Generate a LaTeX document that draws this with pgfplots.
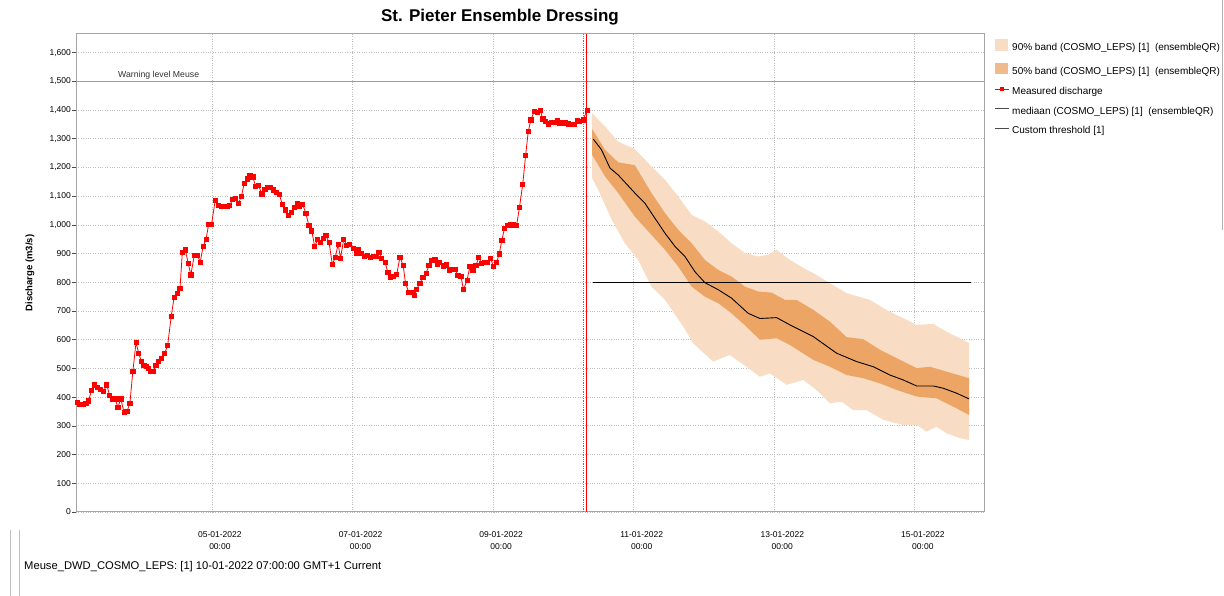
\documentclass[border=0pt]{standalone}
\usepackage{fontspec}
\setmainfont{Liberation Sans}
\usepackage{pgfplots}
\pgfplotsset{compat=1.18}
\usepgfplotslibrary{fillbetween}
\definecolor{bandlight}{RGB}{248,220,196}
\definecolor{banddark}{RGB}{237,165,102}
\definecolor{banddarkleg}{RGB}{241,186,140}
\definecolor{gridgray}{RGB}{190,190,190}
\definecolor{axgray}{RGB}{165,165,165}
\definecolor{measred}{RGB}{255,0,0}
\definecolor{warnorange}{RGB}{248,135,30}

\begin{document}
\begin{tikzpicture}
\begin{axis}[
  at={(76pt,84pt)}, anchor=south west,
  width=908pt, height=478pt, scale only axis,
  xmin=-46.4, xmax=263.6, ymin=0, ymax=1665,
  xtick={0,48,96,144,192,240},
  xticklabels={05-01-2022\\00:00,07-01-2022\\00:00,09-01-2022\\00:00,11-01-2022\\00:00,13-01-2022\\00:00,15-01-2022\\00:00},
  xticklabel style={align=center, font=\fontsize{8.5}{12.5}\selectfont, xshift=8pt, yshift=-12pt},
  ytick={0,100,...,1600},
  yticklabel style={font=\fontsize{8.5}{10}\selectfont, inner sep=1pt},
  /pgf/number format/assume math mode=true,
  /pgf/number format/1000 sep={,},
  tick align=outside,
  ytick pos=left,
  major tick length=4pt,
  xtick style={draw=none},
  ytick style={color=black!70, line width=0.6pt},
  grid=major,
  major grid style={dotted, gridgray, line width=0.8pt},
  axis line style={axgray, line width=1pt},
  clip=true,
  legend style={draw=none, fill=none, at={(1,1)}, anchor=north west, xshift=10pt, yshift=-5pt,
    inner sep=0pt, font=\fontsize{10}{12}\selectfont, row sep=7.5pt,
    nodes={inner sep=1pt, text height=7.5pt, text depth=2.5pt},
    /tikz/every odd column/.append style={column sep=2pt}},
  legend cell align=left,
]
% 90% band
\addplot[name path=u90, draw=none, forget plot] coordinates {
(129.8,1389) (134.2,1343) (138.7,1290) (144.4,1264) (150.1,1203) (154.7,1157) (159.2,1099)
(163.8,1035) (168.3,1012) (172.9,977) (177.4,936) (182.0,902) (186.5,890) (189.9,896)
(192.8,913) (197.3,878) (202.8,845) (205.3,832) (211.0,797) (216.7,762) (224.6,739) (230.3,704)
(236.0,675) (240.6,652) (246.3,655) (250.8,628) (255.4,605) (258.5,588)};
\addplot[name path=l90, draw=none, forget plot] coordinates {
(129.8,1163) (131.9,1122) (136.5,1018) (141.0,936) (145.5,878) (150.1,785) (154.7,739)
(160.9,646) (164.3,588) (171.1,524) (176.8,547) (182.5,506) (187.1,471) (190.5,483)
(196.2,443) (201.9,460) (206.4,425) (211.0,379) (215.0,384) (218.9,355) (223.5,355)
(229.2,321) (236.0,303) (240.6,303) (244.0,280) (247.4,297) (250.8,274) (255.4,257) (258.5,251)};
\addplot[fill=bandlight, draw=none,
  legend image code/.code={\path[draw=none,fill=none] (0pt,-7pt) rectangle (14pt,7pt); \fill[bandlight, draw=none] (0pt,-2.5pt) rectangle (13pt,9pt);}]
  fill between[of=u90 and l90];
\addlegendentry{90\% band (COSMO\_LEPS) [1]\ \ (ensembleQR)}

% 50% band
\addplot[name path=u50, draw=none, forget plot] coordinates {
(129.8,1334) (134.2,1262) (138.7,1218) (144.4,1208) (150.1,1111) (154.7,1041) (159.2,983)
(163.8,936) (168.3,878) (172.9,843) (177.4,820) (182.0,785) (186.5,768) (191.1,764)
(195.6,739) (199.6,739) (205.3,704) (211.0,663) (216.7,609) (222.4,602) (228.1,565)
(233.8,536) (240.6,501) (245.1,506) (250.8,489) (258.5,466)};
\addplot[name path=l50, draw=none, forget plot] coordinates {
(129.8,1244) (134.2,1169) (138.7,1111) (144.4,1029) (150.1,965) (154.7,913) (159.2,855)
(163.8,785) (168.3,750) (172.9,727) (177.4,692) (182.0,650) (187.1,600) (192.8,605)
(197.3,582) (205.3,530) (211.0,506) (216.7,477) (222.4,466) (228.1,448) (233.8,425)
(240.6,402) (247.4,396) (253.1,367) (258.5,338)};
\addplot[fill=banddark, draw=none,
  legend image code/.code={\path[draw=none,fill=none] (0pt,-7pt) rectangle (14pt,7pt); \fill[banddarkleg, draw=none] (0pt,-2.5pt) rectangle (13pt,9pt);}]
  fill between[of=u50 and l50];
\addlegendentry{50\% band (COSMO\_LEPS) [1]\ \ (ensembleQR)}

% warning level 1500 as a thin filled strip
\addplot[forget plot, fill=warnorange, draw=none]
  coordinates {(-46.4,1497.6) (263.6,1497.6) (263.6,1502.4) (-46.4,1502.4)} -- cycle;
\node[anchor=south west, font=\fontsize{8.7}{10}\selectfont, inner sep=1pt, text=black!80] at (axis cs:-32.4,1503) {Warning level Meuse};

% forecast time markers
\addplot[forget plot, black!55, densely dotted, line width=0.8pt] coordinates {(126.9,0) (126.9,1665)};
\addplot[forget plot, measred, line width=0.9pt] coordinates {(127.8,0) (127.8,1665)};

% measured discharge
\addplot[measred, line width=0.8pt, mark=square*, mark size=2.1pt, mark options={solid, fill=measred},
  legend image code/.code={\path[draw=none,fill=none] (0pt,-5pt) rectangle (14pt,5pt); \draw[measred, line width=0.8pt] (0pt,3pt) -- (14pt,3pt); \fill[measred, draw=none] (4.8pt,0.8pt) rectangle (9.2pt,5.2pt);}]
coordinates {
(-45.9,381) (-45.1,376) (-43.9,375) (-43.0,379) (-42.1,387) (-41.1,424) (-40.0,443) (-39.0,435)
(-38.0,428) (-37.0,419) (-35.9,443) (-34.9,405) (-33.9,394) (-33.0,394) (-32.1,364) (-31.1,394)
(-30.0,347) (-29.0,350) (-28.0,379) (-27.0,489) (-25.9,591) (-25.0,553) (-24.1,525) (-23.2,512)
(-22.3,506) (-21.6,501) (-20.9,489) (-20.0,491) (-19.1,511) (-18.2,524) (-17.2,536) (-16.1,553)
(-15.1,581) (-13.9,681) (-12.9,748) (-11.8,762) (-10.9,778) (-10.1,904) (-9.1,913) (-8.1,867)
(-7.2,826) (-6.0,895) (-4.9,895) (-4.0,870) (-3.0,925) (-2.0,950) (-1.1,1003) (-0.1,1003)
(1.1,1084) (2.2,1067) (3.2,1064) (4.2,1064) (5.2,1064) (6.1,1067) (7.1,1090) (8.0,1091)
(9.1,1076) (10.1,1100) (11.0,1144) (12.1,1160) (13.0,1172) (14.0,1167) (14.9,1134) (15.9,1137)
(17.1,1108) (18.1,1125) (19.1,1130) (20.1,1130) (20.9,1122) (22.0,1114) (23.0,1107) (24.0,1072)
(25.0,1052) (26.2,1033) (27.2,1044) (28.1,1062) (29.1,1073) (30.0,1064) (31.0,1072) (32.1,1039)
(33.1,998) (34.1,979) (35.1,925) (36.1,950) (37.0,939) (38.0,953) (38.9,963) (40.0,939)
(41.1,863) (42.1,886) (43.1,933) (43.9,884) (45.0,950) (46.0,930) (47.0,933) (48.2,919)
(49.2,902) (50.1,916) (51.1,902) (52.1,890) (53.0,894) (54.0,888) (55.1,890) (56.0,890)
(57.0,904) (58.0,884) (59.1,870) (60.1,834) (61.0,818) (62.0,822) (63.1,828) (64.2,888)
(65.3,858) (66.1,797) (67.2,766) (68.3,766) (69.1,754) (69.9,776) (71.0,797) (72.0,817)
(73.1,832) (74.1,858) (75.1,875) (76.1,878) (76.9,863) (77.8,870) (79.0,857) (80.0,861)
(81.0,843) (81.9,846) (83.0,846) (84.0,824) (85.0,822) (85.9,774) (87.1,808) (88.1,855)
(89.1,843) (90.1,858) (91.1,886) (92.1,867) (93.1,870) (94.1,870) (95.1,882) (96.2,855)
(97.2,870) (98.1,899) (99.0,947) (99.9,989) (101.0,997) (102.0,1000) (103.0,1000) (104.0,997)
(105.0,1061) (106.1,1140) (107.1,1242) (108.0,1325) (108.9,1366) (110.0,1395) (111.1,1392) (112.1,1399)
(113.0,1369) (113.9,1360) (114.8,1352) (115.8,1358) (116.8,1358) (117.9,1363) (118.8,1355) (119.7,1358)
(120.6,1355) (121.6,1352) (122.7,1349) (123.7,1351) (124.7,1364) (125.6,1360) (126.7,1366) (128.1,1399)};
\addlegendentry{Measured discharge}

% median
\addplot[black, line width=0.9pt,
  legend image code/.code={\path[draw=none,fill=none] (0pt,-5pt) rectangle (14pt,5pt); \draw[black!70, line width=1pt] (0pt,3pt) -- (14pt,3pt);}]
coordinates {
(130.2,1299) (133.0,1262) (135.9,1198) (138.7,1174) (144.4,1111) (147.8,1076) (151.2,1024)
(154.7,971) (158.1,925) (161.5,890) (164.9,837) (168.3,799) (172.9,774) (177.4,745)
(183.1,692) (187.1,674) (192.8,677) (197.3,652) (205.3,611) (213.3,553) (220.1,524)
(225.8,506) (231.5,477) (236.0,460) (240.6,439) (246.3,439) (249.7,431) (254.2,414) (258.5,394)};
\addlegendentry{mediaan (COSMO\_LEPS) [1]\ \ (ensembleQR)}

% custom threshold
\addplot[black, line width=1pt,
  legend image code/.code={\path[draw=none,fill=none] (0pt,-5pt) rectangle (14pt,5pt); \draw[black!70, line width=1pt] (0pt,3pt) -- (14pt,3pt);}]
coordinates {(130.0,800) (259.0,800)};
\addlegendentry{Custom threshold [1]}
\end{axis}

\node[font=\bfseries\fontsize{17}{20}\selectfont] at (500pt,579pt) {St. Pieter Ensemble Dressing};
\node[rotate=90, font=\bfseries\fontsize{9.5}{11}\selectfont] at (30pt,323pt) {Discharge (m3/s)};
\node[anchor=west, font=\fontsize{11.2}{13}\selectfont, inner sep=0pt] at (24pt,29pt) {Meuse\_DWD\_COSMO\_LEPS: [1] 10-01-2022 07:00:00 GMT+1 Current};
\draw[black!25, line width=1pt] (10.5pt,0pt) -- (10.5pt,66pt);
\draw[black!25, line width=1pt] (19pt,0pt) -- (19pt,66pt);
\draw[black!30, line width=1pt] (1222.5pt,366pt) -- (1222.5pt,596pt);
\pgfresetboundingbox
\path[use as bounding box] (0pt,0pt) rectangle (1224pt,596pt);
\end{tikzpicture}
\end{document}
